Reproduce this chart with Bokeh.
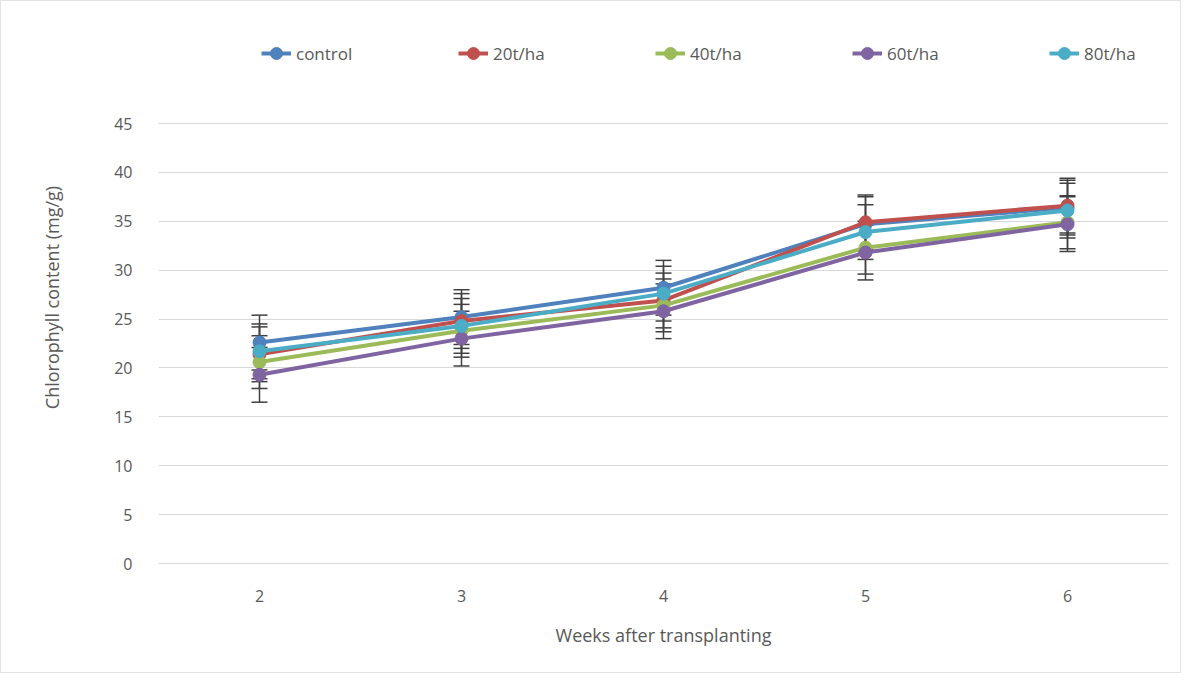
from bokeh.plotting import figure
from bokeh.models import ColumnDataSource, Legend, LegendItem, Whisker, TeeHead, FixedTicker, Range1d
from bokeh.embed import file_html
from bokeh.resources import INLINE

weeks = [2, 3, 4, 5, 6]
series_names = ["control", "20t/ha", "40t/ha", "60t/ha", "80t/ha"]
control = [22.6, 25.2, 28.2, 34.7, 36.4]
t20 = [21.4, 24.8, 26.9, 34.9, 36.6]
t40 = [20.6, 23.8, 26.4, 32.3, 34.9]
t60 = [19.3, 23.0, 25.8, 31.8, 34.7]
t80 = [21.7, 24.3, 27.6, 33.9, 36.1]
errors = [2.8, 2.8, 2.7, 2.8, 2.8]
colors = ["#4F81BD", "#C0504D", "#9BBB59", "#8064A2", "#4BACC6"]
y_ticks = [0, 5, 10, 15, 20, 25, 30, 35, 40, 45]

FONT = "Open Sans"
GREY = "#595959"

# plot area: 440px for 0..45, extended upward (without grid) to host the legend
PLOT_PX = 440
FRAME_H = 532
y_top = 45 * FRAME_H / PLOT_PX

p = figure(width=1181, height=673, output_backend="svg", toolbar_location=None,
           x_range=Range1d(1.5, 6.5), y_range=Range1d(0, y_top),
           min_border_left=157, min_border_right=14, min_border_bottom=111,
           min_border_top=673 - 111 - FRAME_H)
p.outline_line_color = None
p.background_fill_color = "white"
p.styles = {"border": "1px solid #e3e3e3"}

p.xgrid.grid_line_color = None
p.ygrid.grid_line_color = "#d9d9d9"
p.ygrid.grid_line_width = 1

p.yaxis.ticker = FixedTicker(ticks=y_ticks)
p.xaxis.ticker = FixedTicker(ticks=weeks)
for ax in (p.xaxis[0], p.yaxis[0]):
    ax.major_tick_line_color = None
    ax.minor_tick_line_color = None
    ax.major_label_text_font = FONT
    ax.major_label_text_font_size = "16px"
    ax.major_label_text_color = GREY
    ax.axis_label_text_font = FONT
    ax.axis_label_text_font_size = "18px"
    ax.axis_label_text_font_style = "normal"
    ax.axis_label_text_color = GREY
    ax.major_label_standoff = 20
p.yaxis.axis_line_color = None
p.xaxis.axis_line_color = "#d9d9d9"
p.xaxis.axis_label = "Weeks after transplanting"
p.yaxis.axis_label = "Chlorophyll content (mg/g)"
p.xaxis.axis_label_standoff = 18
p.yaxis.axis_label_standoff = 47

data = [control, t20, t40, t60, t80]
items = []
for name, vals, col, err in zip(series_names, data, colors, errors):
    src = ColumnDataSource(dict(x=weeks, y=vals,
                                upper=[v + err for v in vals],
                                lower=[v - err for v in vals]))
    ln = p.line("x", "y", source=src, line_color=col, line_width=4)
    sc = p.scatter("x", "y", source=src, size=13, fill_color=col, line_color=col)
    items.append(LegendItem(label=name, renderers=[ln, sc]))
    w = Whisker(base="x", upper="upper", lower="lower", source=src,
                line_color="#404040", line_width=1.5,
                upper_head=TeeHead(size=16, line_color="#404040", line_width=1.5),
                lower_head=TeeHead(size=16, line_color="#404040", line_width=1.5))
    p.add_layout(w)

legend = Legend(items=items, orientation="horizontal", location=(103, 495),
                label_text_font=FONT, label_text_font_size="17px",
                label_text_color=GREY, glyph_width=30, glyph_height=30, label_width=70,
                spacing=92, border_line_color=None, background_fill_alpha=0,
                margin=0, padding=5, label_standoff=5)
p.add_layout(legend)

open("out.html", "w").write(file_html(p, INLINE))
